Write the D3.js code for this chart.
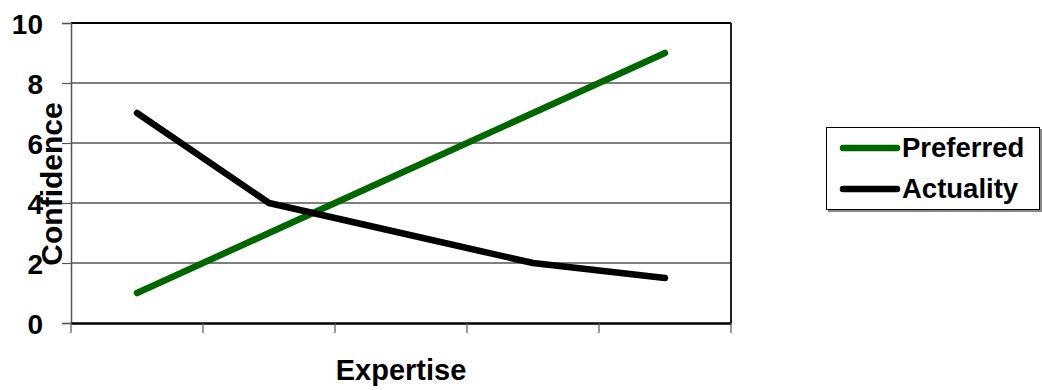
<!DOCTYPE html>
<html>
<head>
<meta charset="utf-8">
<script src="https://cdn.jsdelivr.net/npm/d3@7"></script>
<style>
  html, body { margin: 0; padding: 0; background: #fff; }
  svg { display: block; }
  text { font-family: "Liberation Sans", Arial, sans-serif; font-weight: bold; fill: #000; }
</style>
</head>
<body>
<svg id="chart" width="1042" height="390"></svg>
<script>
// Chart data
const categories = ["E1", "E2", "E3", "E4", "E5"];
const preferred = [1, 3, 5, 7, 9];
const actuality = [7, 4, 3, 2, 1.5];
const yTicks = [0, 2, 4, 6, 8, 10];
const seriesNames = ["Preferred", "Actuality"];
const seriesColors = ["#006600", "#000000"];

const svg = d3.select("#chart");
const plot = { left: 71, right: 731, top: 23, bottom: 323 };

const x = d3.scaleBand().domain(categories).range([plot.left, plot.right]);
const y = d3.scaleLinear().domain([0, 10]).range([plot.bottom, plot.top]);

// Horizontal gridlines
svg.append("g")
  .selectAll("line")
  .data(yTicks.filter(d => d > 0 && d < 10))
  .join("line")
  .attr("x1", plot.left).attr("x2", plot.right)
  .attr("y1", d => y(d)).attr("y2", d => y(d))
  .attr("stroke", "#000").attr("stroke-width", 1);

// Plot frame: top and right edges
svg.append("line")
  .attr("x1", plot.left).attr("x2", plot.right)
  .attr("y1", y(10)).attr("y2", y(10))
  .attr("stroke", "#000").attr("stroke-width", 2);
svg.append("line")
  .attr("x1", plot.right).attr("x2", plot.right)
  .attr("y1", y(10)).attr("y2", y(0))
  .attr("stroke", "#222").attr("stroke-width", 2);

// Y axis
const yAxis = svg.append("g")
  .attr("transform", `translate(${plot.left},0)`)
  .call(d3.axisLeft(y).tickValues(yTicks).tickSize(9).tickPadding(19).tickFormat(d3.format("d")));
yAxis.select(".domain").attr("stroke", "#555").attr("stroke-width", 1.5);
yAxis.selectAll(".tick line").attr("stroke", "#555").attr("stroke-width", 1.2);
yAxis.selectAll(".tick text")
  .attr("font-size", 28).attr("font-family", "Liberation Sans, Arial, sans-serif")
  .attr("font-weight", "bold").attr("fill", "#000").attr("dy", "0.36em");

// X axis (ticks at category boundaries, no labels)
const xAxis = svg.append("g")
  .attr("transform", `translate(0,${plot.bottom})`)
  .call(d3.axisBottom(x).tickSize(0).tickFormat(""));
xAxis.select(".domain").attr("stroke", "#000").attr("stroke-width", 2.5);
const bounds = categories.map(c => x(c)).concat([x(categories[categories.length - 1]) + x.bandwidth()]);
xAxis.selectAll(".bound")
  .data(bounds)
  .join("line")
  .attr("class", "bound")
  .attr("x1", d => d).attr("x2", d => d)
  .attr("y1", 0).attr("y2", 10)
  .attr("stroke", "#555").attr("stroke-width", 1.2);

// Series lines
const line = d3.line()
  .x((d, i) => x(categories[i]) + x.bandwidth() / 2)
  .y(d => y(d));

[preferred, actuality].forEach((vals, i) => {
  svg.append("path")
    .datum(vals)
    .attr("d", line)
    .attr("fill", "none")
    .attr("stroke", seriesColors[i])
    .attr("stroke-width", 6.5)
    .attr("stroke-linecap", "round")
    .attr("stroke-linejoin", "round");
});

// Axis titles
svg.append("text")
  .attr("transform", "translate(62,184) rotate(-90)")
  .attr("text-anchor", "middle")
  .attr("font-size", 30)
  .text("Confidence");

svg.append("text")
  .attr("x", (plot.left + plot.right) / 2).attr("y", 380)
  .attr("text-anchor", "middle")
  .attr("font-size", 29)
  .text("Expertise");

// Legend
const legend = svg.append("g");
legend.append("rect")
  .attr("x", 828).attr("y", 129).attr("width", 214).attr("height", 83)
  .attr("fill", "#888");
legend.append("rect")
  .attr("x", 826.5).attr("y", 127.5).attr("width", 213).attr("height", 82)
  .attr("fill", "#fff").attr("stroke", "#000").attr("stroke-width", 1);

const legendRows = [148, 189];
seriesNames.forEach((name, i) => {
  legend.append("line")
    .attr("x1", 843).attr("x2", 897)
    .attr("y1", legendRows[i]).attr("y2", legendRows[i])
    .attr("stroke", seriesColors[i])
    .attr("stroke-width", 6.5)
    .attr("stroke-linecap", "round");
  legend.append("text")
    .attr("x", 902).attr("y", legendRows[i] + 9)
    .attr("font-size", 27.5)
    .text(name);
});
</script>
</body>
</html>
